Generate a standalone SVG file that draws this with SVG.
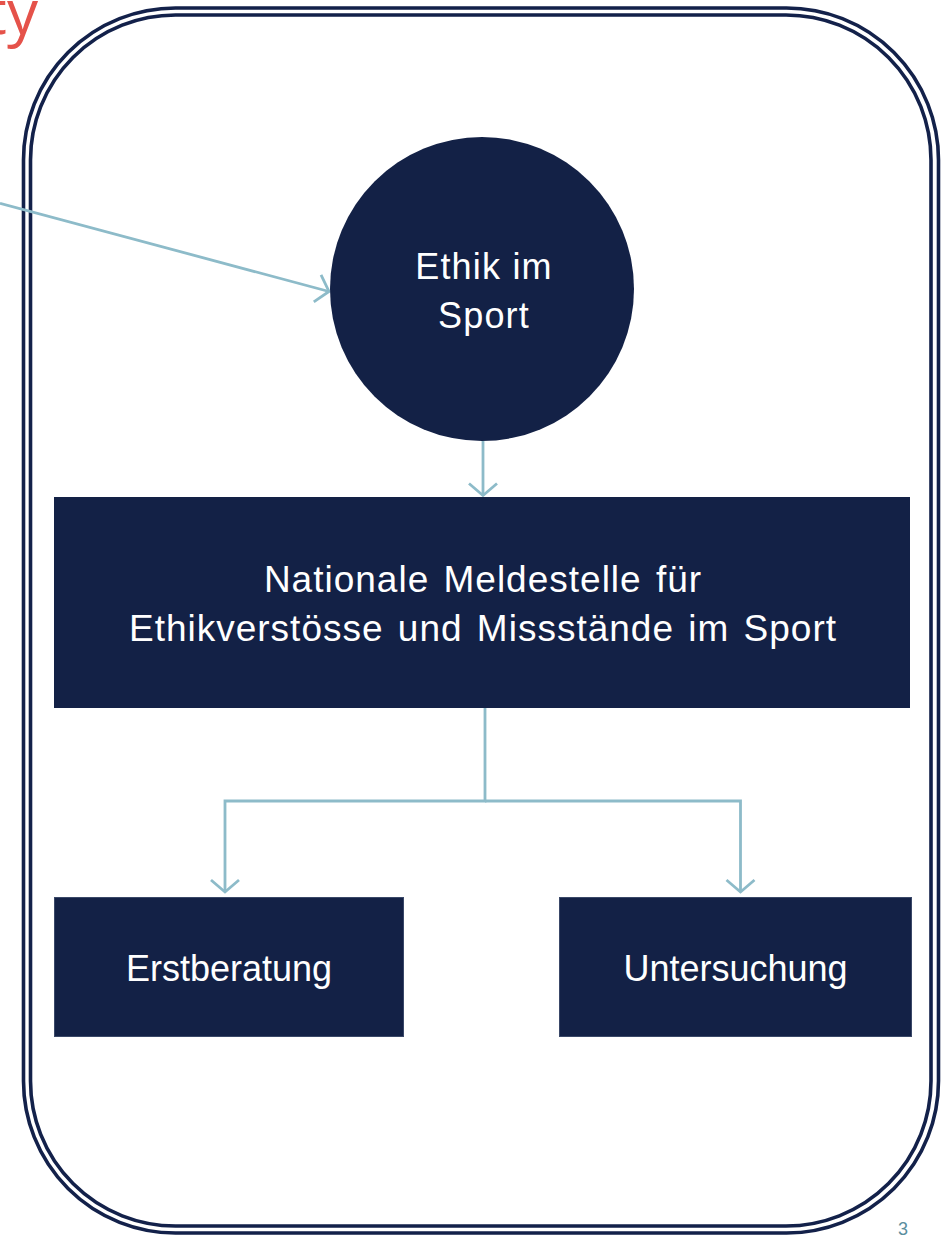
<svg xmlns="http://www.w3.org/2000/svg" width="946" height="1236" viewBox="0 0 946 1236">
  <style>
    .frame { fill: none; stroke: #13214A; stroke-width: 3.6; }
    .node { fill: #132146; }
    .box { fill: #132146; stroke: #3a4868; stroke-width: 1; }
    .label { fill: #ffffff; font-family: "Liberation Sans", Arial, sans-serif; text-anchor: middle; }
    .conn { fill: none; stroke: #8DBBC9; stroke-width: 2.8; }
  </style>
  <defs>
    <marker id="arrow" markerUnits="userSpaceOnUse" markerWidth="40" markerHeight="40" refX="0" refY="0" viewBox="-20 -20 40 40" orient="auto" overflow="visible">
      <path d="M -12 -14 L 0 0 L -12 14" fill="none" stroke="#8DBBC9" stroke-width="2.8"/>
    </marker>
  </defs>
  <rect width="946" height="1236" fill="#ffffff"/>

  <text x="38" y="34" font-family="'Open Sans', 'Liberation Sans', sans-serif" font-weight="400" font-size="62" fill="#E5524A" text-anchor="end">ty</text>

  <g id="frame">
    <rect class="frame" x="23.5" y="8" width="915" height="1225" rx="152" ry="152"/>
    <rect class="frame" x="30.5" y="15" width="900.5" height="1211" rx="145" ry="145"/>
  </g>

  <g id="connectors">
    <line class="conn" x1="0" y1="203.3" x2="329" y2="291.5" marker-end="url(#arrow)"/>
    <line class="conn" x1="483" y1="441" x2="483" y2="495.5" marker-end="url(#arrow)"/>
    <path class="conn" d="M 485 708 L 485 801 L 225 801 L 225 892" marker-end="url(#arrow)"/>
    <path class="conn" d="M 485 801 L 740.5 801 L 740.5 892" marker-end="url(#arrow)"/>
  </g>

  <g id="node-ethik">
    <circle class="node" cx="482" cy="289" r="152"/>
    <text class="label" font-size="36" letter-spacing="1.2" x="484" y="279">Ethik im</text>
    <text class="label" font-size="36" letter-spacing="1.2" x="484" y="328">Sport</text>
  </g>

  <g id="node-meldestelle">
    <rect class="node" x="54" y="497" width="856" height="211"/>
    <text class="label" font-size="37" letter-spacing="1" word-spacing="3" x="483" y="592">Nationale Meldestelle für</text>
    <text class="label" font-size="37" letter-spacing="1" word-spacing="3" x="483" y="641">Ethikverstösse und Missstände im Sport</text>
  </g>

  <g id="node-erstberatung">
    <rect class="box" x="54.5" y="897.5" width="349" height="139"/>
    <text class="label" font-size="36" x="229" y="981">Erstberatung</text>
  </g>

  <g id="node-untersuchung">
    <rect class="box" x="559.5" y="897.5" width="352" height="139"/>
    <text class="label" font-size="36" x="735.5" y="981">Untersuchung</text>
  </g>

  <text x="903" y="1235" font-family="'Liberation Sans', Arial, sans-serif" font-size="18" fill="#5B8E9E" text-anchor="middle">3</text>
</svg>
